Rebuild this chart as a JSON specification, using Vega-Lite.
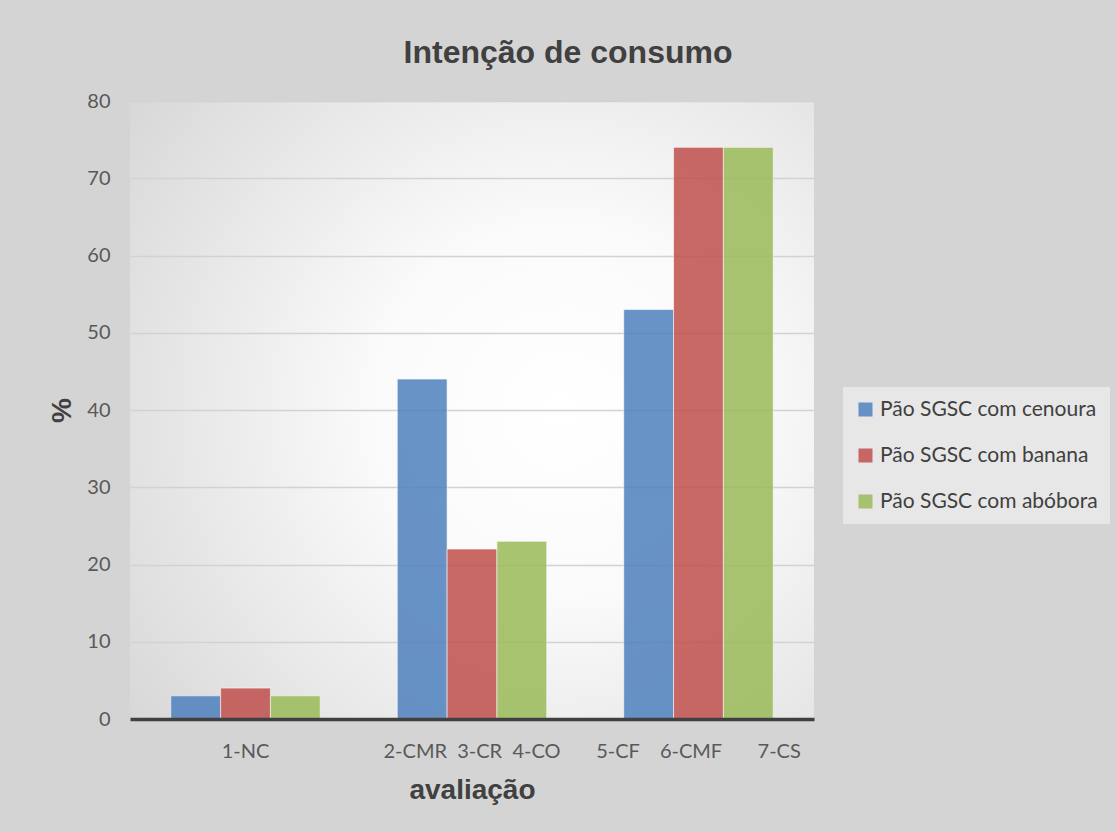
{
  "$schema": "https://vega.github.io/schema/vega-lite/v6.json",
  "width": 684,
  "height": 618,
  "autosize": {"type": "none"},
  "padding": {"left": 130, "top": 101, "right": 302, "bottom": 113},
  "background": "#d4d4d4",
  "title": {
    "text": "Intenção de consumo",
    "font": "Liberation Sans",
    "fontSize": 32,
    "fontWeight": "bold",
    "color": "#404040",
    "anchor": "middle",
    "dx": 96,
    "dy": 44,
    "baseline": "alphabetic",
    "offset": 40
  },
  "data": {
    "values": [
      {"avaliacao": "1-NC", "serie": "Pão SGSC com cenoura", "valor": 3},
      {"avaliacao": "1-NC", "serie": "Pão SGSC com banana", "valor": 4},
      {"avaliacao": "1-NC", "serie": "Pão SGSC com abóbora", "valor": 3},
      {"avaliacao": "2-CMR\u00a0\u00a03-CR\u00a0\u00a04-CO", "serie": "Pão SGSC com cenoura", "valor": 44},
      {"avaliacao": "2-CMR\u00a0\u00a03-CR\u00a0\u00a04-CO", "serie": "Pão SGSC com banana", "valor": 22},
      {"avaliacao": "2-CMR\u00a0\u00a03-CR\u00a0\u00a04-CO", "serie": "Pão SGSC com abóbora", "valor": 23},
      {"avaliacao": "5-CF\u00a0\u00a0\u00a0\u00a06-CMF\u00a0\u00a0\u00a0\u00a0\u00a0\u00a0\u00a07-CS", "serie": "Pão SGSC com cenoura", "valor": 53},
      {"avaliacao": "5-CF\u00a0\u00a0\u00a0\u00a06-CMF\u00a0\u00a0\u00a0\u00a0\u00a0\u00a0\u00a07-CS", "serie": "Pão SGSC com banana", "valor": 74},
      {"avaliacao": "5-CF\u00a0\u00a0\u00a0\u00a06-CMF\u00a0\u00a0\u00a0\u00a0\u00a0\u00a0\u00a07-CS", "serie": "Pão SGSC com abóbora", "valor": 74}
    ]
  },
  "mark": {"type": "bar", "opacity": 0.85, "stroke": "#ffffff", "strokeOpacity": 0.6, "strokeWidth": 1},
  "encoding": {
    "x": {
      "field": "avaliacao",
      "type": "nominal",
      "sort": null,
      "scale": {"paddingInner": 0.34, "paddingOuter": 0.18},
      "axis": {
        "title": "avaliação",
        "labelAngle": 0,
        "labelFont": "Lato",
        "labelFontSize": 20,
        "labelColor": "#595959",
        "labelPadding": 22,
        "labelLimit": 400,
        "labelOverlap": false,
        "ticks": false,
        "domainColor": "#404040",
        "domainWidth": 3.5,
        "titleFont": "Liberation Sans",
        "titleFontSize": 28,
        "titleFontWeight": "bold",
        "titleColor": "#404040",
        "titlePadding": 15,
        "zindex": 1
      }
    },
    "xOffset": {
      "field": "serie",
      "type": "nominal",
      "sort": ["Pão SGSC com cenoura", "Pão SGSC com banana", "Pão SGSC com abóbora"],
      "scale": {"paddingInner": 0, "paddingOuter": 0}
    },
    "y": {
      "field": "valor",
      "type": "quantitative",
      "scale": {"domain": [0, 80]},
      "axis": {
        "title": "%",
        "values": [0, 10, 20, 30, 40, 50, 60, 70, 80],
        "domain": false,
        "ticks": false,
        "grid": true,
        "gridColor": "#d2d2d2",
        "gridWidth": 1.5,
        "labelFont": "Lato",
        "labelFontSize": 20,
        "labelColor": "#595959",
        "labelPadding": 20,
        "titleFont": "Liberation Sans",
        "titleFontSize": 28,
        "titleFontWeight": "bold",
        "titleColor": "#404040",
        "titlePadding": 10
      }
    },
    "color": {
      "field": "serie",
      "type": "nominal",
      "scale": {
        "domain": ["Pão SGSC com cenoura", "Pão SGSC com banana", "Pão SGSC com abóbora"],
        "range": ["#4F81BD", "#C0504D", "#9BBB59"]
      },
      "legend": {
        "title": null,
        "orient": "none",
        "legendX": 713,
        "legendY": 286,
        "padding": 12,
        "fillColor": "rgba(245,245,245,0.55)",
        "symbolType": "square",
        "symbolSize": 196,
        "symbolStrokeWidth": 0,
        "symbolOpacity": 0.85,
        "labelFont": "Lato",
        "labelFontSize": 21,
        "labelColor": "#404040",
        "labelOffset": 4,
        "rowPadding": 24,
        "labelLimit": 400
      }
    }
  },
  "config": {
    "view": {
      "stroke": null,
      "fill": {
        "gradient": "radial",
        "x1": 0.63, "y1": 0.5, "r1": 0,
        "x2": 0.63, "y2": 0.5, "r2": 0.8,
        "stops": [
          {"offset": 0, "color": "#ffffff"},
          {"offset": 0.35, "color": "#fafafa"},
          {"offset": 1, "color": "#d6d6d6"}
        ]
      }
    }
  }
}
